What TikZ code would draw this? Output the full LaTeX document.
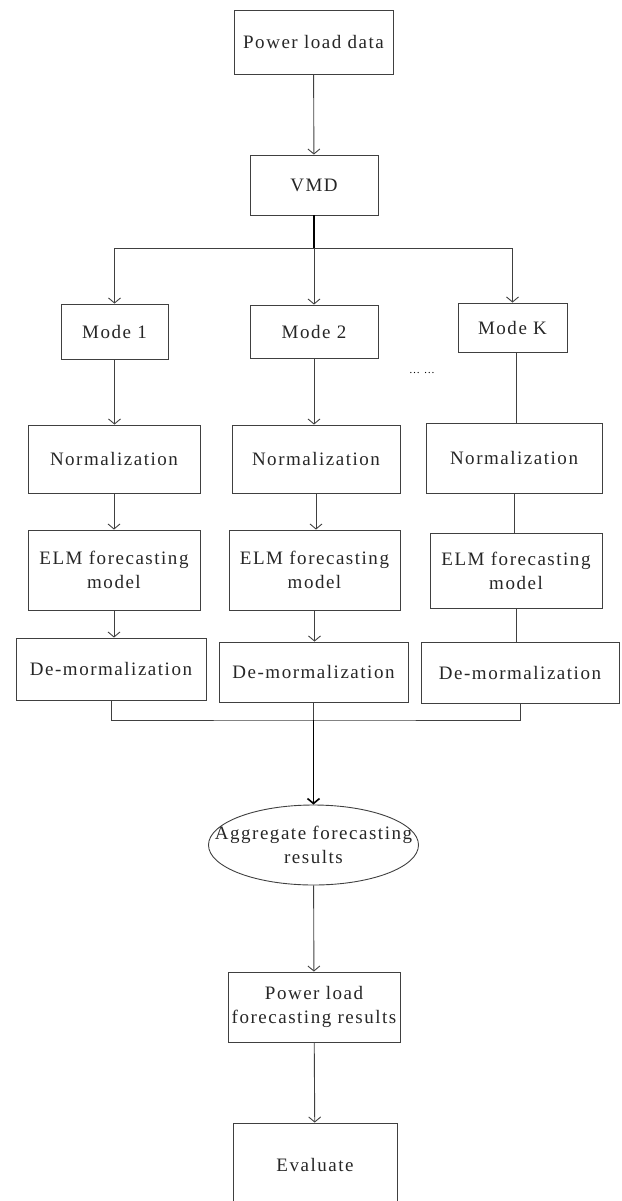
\documentclass[tikz,border=0pt]{standalone}
\usepackage{fontspec}
\setmainfont{Liberation Serif}[LetterSpace=8]
\usepackage{tikz}
\usetikzlibrary{calc,arrows.meta,shapes.geometric}
\tikzset{>={Straight Barb[length=5pt,width=12pt]}}
\tikzset{
  box/.style={draw=black!75,line width=0.9pt,inner sep=0pt,align=center,
    font=\fontsize{19}{24}\selectfont,text=black!85},
  oval/.style={box,ellipse,inner xsep=-40pt,inner ysep=2pt,
    minimum width=210pt,minimum height=80pt},
  link/.style={draw=black!75,line width=0.9pt},
  trunk/.style={draw=black,line width=1.6pt}
}

\begin{document}
\begin{tikzpicture}[x=1pt,y=-1pt]
      \useasboundingbox (0,0) rectangle (621,1201);

      % top part
      \node[box,minimum width=159pt,minimum height=64pt] (data) at (313.5,42) {Power load data};
      \node[box,minimum width=128pt,minimum height=60pt] (vmd) at (314,185) {VMD};
      \coordinate (split) at (314,248);

      % modes
      \node[box,minimum width=107pt,minimum height=55pt] (mode1) at (114.5,331.5) {Mode 1};
      \node[box,minimum width=128pt,minimum height=53pt] (mode2) at (314,331.5) {Mode 2};
      \node[box,minimum width=109pt,minimum height=49pt] (modeK) at (512.5,327.5) {Mode K};
      \node[font=\fontsize{11}{11}\selectfont] (dots) at (422,373) {… …};

      \node[box,minimum width=172pt,minimum height=68pt] (norm1) at (114,459) {Normalization};
      \node[box,minimum width=168pt,minimum height=68pt] (norm2) at (316,459) {Normalization};
      \node[box,minimum width=176pt,minimum height=70pt] (normK) at (514,458) {Normalization};

      \node[box,minimum width=172pt,minimum height=80pt] (elm1) at (114,570) {ELM forecasting\\model};
      \node[box,minimum width=171pt,minimum height=80pt] (elm2) at (314.5,570) {ELM forecasting\\model};
      \node[box,minimum width=172pt,minimum height=75pt] (elmK) at (516,570.5) {ELM forecasting\\model};

      \node[box,minimum width=190pt,minimum height=62pt] (de1) at (111,669) {De-mormalization};
      \node[box,minimum width=189pt,minimum height=60pt] (de2) at (313.5,672) {De-mormalization};
      \node[box,minimum width=198pt,minimum height=61pt] (deK) at (520,672.5) {De-mormalization};
      \coordinate (join) at (313.5,720);

      % bottom part
      \node[oval] (agg) at (313.5,845) {Aggregate forecasting\\results};
      \node[box,minimum width=172pt,minimum height=70pt] (plfr) at (314,1007) {Power load\\forecasting results};
      \node[box,minimum width=164pt,minimum height=84pt] (eval) at (315,1165) {Evaluate};

      \draw[link,->] (data) -- (vmd);
      \draw[trunk] (vmd.south) -- (split);
      \draw[link,->] (split) -| (mode1.north);
      \draw[link,->] (split) -- (mode2.north);
      \draw[link,->] (split) -| (modeK.north);

      \draw[link,->] (mode1.south) -- (mode1.south |- norm1.north);
      \draw[link,->] (mode2.south) -- (mode2.south |- norm2.north);
      \draw[link] ([xshift=4pt]modeK.south) -- ([xshift=4pt]modeK.south |- normK.north);

      \draw[link,->] (norm1.south) -- (norm1.south |- elm1.north);
      \draw[link,->] (norm2.south) -- (norm2.south |- elm2.north);
      \draw[link] (normK.south) -- (normK.south |- elmK.north);

      \draw[link,->] (elm1.south) -- (elm1.south |- de1.north);
      \draw[link,->] (elm2.south) -- (elm2.south |- de2.north);
      \draw[link] (elmK.south) -- (elmK.south |- deK.north);

      \draw[link] (de1.south) |- (join) -| (deK.south);
      \draw[link] (de2.south) -- (join);
      \draw[trunk,->] (join) -- (agg.north);

      \draw[link,->] (agg) -- (plfr);
      \draw[link,->] (plfr) -- (eval);
\end{tikzpicture}
\end{document}
